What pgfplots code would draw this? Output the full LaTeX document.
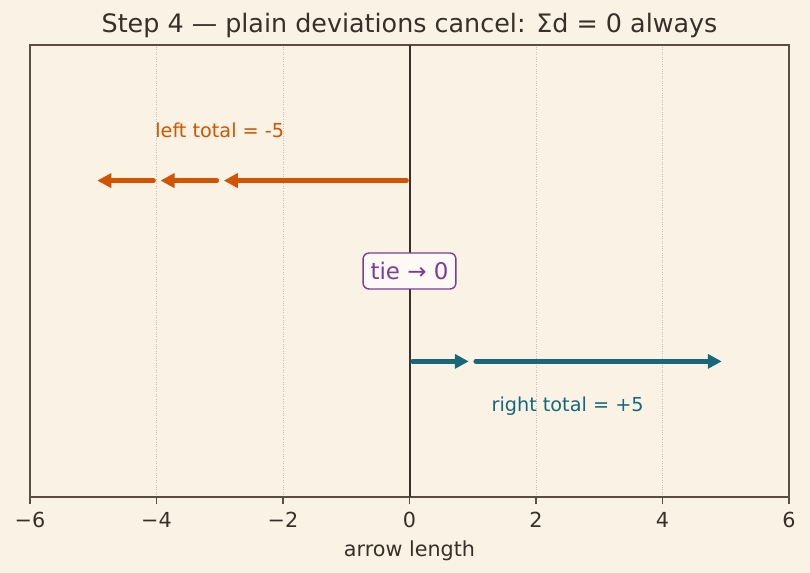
\documentclass[border=0pt]{standalone}
\usepackage{pgfplots}
\pgfplotsset{compat=1.18}
\usepackage{fontspec}
\setmainfont{DejaVu Sans}
\usetikzlibrary{arrows.meta,backgrounds}

\definecolor{bg}{HTML}{FAF3E5}
\definecolor{txt}{HTML}{3A2F28}
\definecolor{spine}{HTML}{5A4E44}
\definecolor{gridc}{HTML}{C9BFB2}
\definecolor{zeroline}{HTML}{3B2F2A}
\definecolor{leftc}{HTML}{D35400}
\definecolor{rightc}{HTML}{17697A}
\definecolor{tiec}{HTML}{7D3C98}

\tikzset{
  devarrow/.style={line cap=round,
    -{Triangle[length=14bp,width=14bp]},
    shorten >=4bp, shorten <=3bp},
}

\begin{document}
\begin{tikzpicture}
\begin{axis}[
  name=ax,
  scale only axis,
  width=759bp, height=452bp,
  xmin=-6, xmax=6, ymin=-1.5, ymax=1.5,
  xtick={-6,-4,-2,0,2,4,6},
  xticklabels={−6,−4,−2,0,2,4,6},
  ytick=\empty,
  xtick pos=lower,
  tick align=outside,
  major tick length=7bp,
  axis line style={color=spine, line width=1.5bp},
  every tick/.style={color=spine, line width=1.5bp},
  xmajorgrids,
  grid style={dotted, color=gridc, line width=0.9bp},
  axis background/.style={fill=bg},
  ticklabel style={font=\fontsize{20.8}{24}\selectfont, color=txt},
  xticklabel style={anchor=base, yshift=-23bp},
  title={Step 4 — plain deviations cancel: Σd = 0 always},
  title style={at={(axis description cs:0.5,1)}, anchor=base, yshift=7bp,
    font=\fontsize{25.5}{30}\selectfont, color=txt},
  xlabel={arrow length},
  xlabel style={at={(axis description cs:0.5,0)}, anchor=base, yshift=-59bp,
    font=\fontsize{20.8}{24}\selectfont, color=txt},
  clip=false,
]
  % reference line at zero
  \addplot[color=zeroline, line width=2bp] coordinates {(0,-1.5) (0,1.5)};

  % negative deviations, chained tip to tail
  \addplot[devarrow, color=leftc, line width=4.6bp] coordinates {(0,0.6) (-3,0.6)};
  \addplot[devarrow, color=leftc, line width=4.6bp] coordinates {(-3,0.6) (-4,0.6)};
  \addplot[devarrow, color=leftc, line width=4.6bp] coordinates {(-4,0.6) (-5,0.6)};

  % positive deviations
  \addplot[devarrow, color=rightc, line width=4.6bp] coordinates {(0,-0.6) (1,-0.6)};
  \addplot[devarrow, color=rightc, line width=4.6bp] coordinates {(1,-0.6) (5,-0.6)};

  \node[text=leftc, font=\fontsize{19.3}{22}\selectfont] at (axis cs:-3,0.936) {left total = -5};
  \node[text=rightc, font=\fontsize{19.3}{22}\selectfont] at (axis cs:2.5,-0.896) {right total = +5};

  \node[draw=tiec, fill=white!60!bg, line width=1.4bp, rounded corners=6bp,
        text=tiec, font=\fontsize{23}{27}\selectfont,
        inner xsep=7.5bp, inner ysep=0bp, minimum height=36bp]
        at (axis cs:0,0) {tie → 0};
\end{axis}
\begin{scope}[on background layer]
  \fill[bg] ([xshift=-30bp,yshift=-76bp]ax.south west) rectangle ([xshift=21bp,yshift=45bp]ax.north east);
\end{scope}
\useasboundingbox ([xshift=-30bp,yshift=-76bp]ax.south west) rectangle ([xshift=21bp,yshift=45bp]ax.north east);
\end{tikzpicture}
\end{document}
